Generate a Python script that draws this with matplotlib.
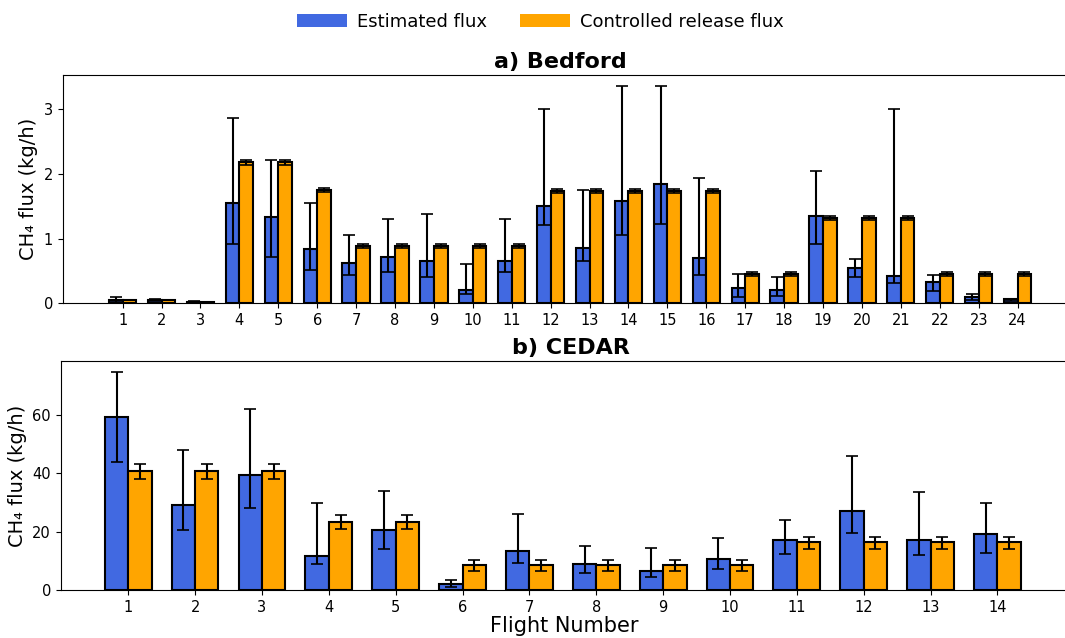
import matplotlib
matplotlib.use("Agg")
import matplotlib.pyplot as plt
import numpy as np
from matplotlib.patches import Patch

# ---------------- data ----------------
bed_flights = list(range(1, 25))
bed_est = [0.05, 0.05, 0.02, 1.55, 1.34, 0.84, 0.63, 0.72, 0.66, 0.20, 0.65, 1.51,
           0.85, 1.58, 1.84, 0.70, 0.24, 0.20, 1.35, 0.55, 0.42, 0.33, 0.10, 0.06]
bed_est_lo = [0.02, 0.04, 0.01, 0.91, 0.72, 0.51, 0.43, 0.49, 0.40, 0.14, 0.48, 1.21,
              0.66, 1.05, 1.22, 0.44, 0.10, 0.11, 0.92, 0.41, 0.32, 0.19, 0.05, 0.04]
bed_est_hi = [0.10, 0.06, 0.03, 2.86, 2.22, 1.55, 1.05, 1.30, 1.38, 0.60, 1.31, 3.00,
              1.75, 3.36, 3.36, 1.93, 0.46, 0.40, 2.05, 0.69, 3.01, 0.44, 0.14, 0.07]
bed_rel = [0.05, 0.05, 0.02, 2.18, 2.18, 1.75, 0.89, 0.89, 0.89, 0.89, 0.89, 1.74,
           1.74, 1.74, 1.74, 1.74, 0.45, 0.45, 1.32, 1.32, 1.32, 0.45, 0.45, 0.45]
bed_rel_err = [0.0, 0.0, 0.0, 0.04, 0.04, 0.03, 0.03, 0.03, 0.03, 0.03, 0.03, 0.03,
               0.03, 0.03, 0.03, 0.03, 0.03, 0.03, 0.03, 0.03, 0.03, 0.03, 0.03, 0.03]

ced_flights = list(range(1, 15))
ced_est = [59.4, 29.0, 39.5, 11.8, 20.6, 2.1, 13.3, 8.9, 6.5, 10.6, 17.0, 27.2, 17.0, 19.1]
ced_est_lo = [43.8, 20.5, 28.0, 8.8, 13.9, 1.1, 9.3, 5.8, 4.6, 7.2, 12.2, 19.5, 11.9, 12.8]
ced_est_hi = [74.6, 47.9, 62.2, 29.7, 33.8, 3.3, 25.9, 15.1, 14.5, 17.9, 24.1, 46.1, 33.5, 29.7]
ced_rel = [40.7, 40.7, 40.7, 23.4, 23.4, 8.6, 8.6, 8.6, 8.6, 8.6, 16.5, 16.5, 16.5, 16.5]
ced_rel_lo = [38.2, 38.2, 38.2, 21.0, 21.0, 6.6, 6.6, 6.6, 6.6, 6.6, 13.9, 13.9, 13.9, 13.9]
ced_rel_hi = [43.1, 43.1, 43.1, 25.6, 25.6, 10.4, 10.4, 10.4, 10.4, 10.4, 18.3, 18.3, 18.3, 18.3]

legend_labels = ["Estimated flux", "Controlled release flux"]
titles = ["a) Bedford", "b) CEDAR"]
ylabel = "CH\u2084 flux (kg/h)"
xlabel = "Flight Number"

# ---------------- styling ----------------
c_est = "royalblue"
c_rel = "orange"
W = 0.35
FW, FH = 1065, 638

fig = plt.figure(figsize=(FW / 100, FH / 100), dpi=100)

def px_axes(left, right, top, bottom):
    return fig.add_axes([left / FW, (FH - bottom) / FH, (right - left) / FW, (bottom - top) / FH])

ax1 = px_axes(62.7, 1067, 75, 303.3)
ax2 = px_axes(60.7, 1067, 361, 590)

def draw(ax, x, est, lo, hi, rel, rlo, rhi):
    x = np.asarray(x, dtype=float)
    est = np.asarray(est); rel = np.asarray(rel)
    ax.bar(x - W / 2, est, W, color=c_est, edgecolor="black", linewidth=1.5, zorder=2)
    ax.bar(x + W / 2, rel, W, color=c_rel, edgecolor="black", linewidth=1.5, zorder=2)
    yerr_e = np.vstack([est - np.asarray(lo), np.asarray(hi) - est])
    yerr_r = np.vstack([rel - np.asarray(rlo), np.asarray(rhi) - rel])
    ax.errorbar(x - W / 2, est, yerr=yerr_e, fmt="none", ecolor="black",
                elinewidth=1.5, capsize=4, capthick=1.2, zorder=3)
    ax.errorbar(x + W / 2, rel, yerr=yerr_r, fmt="none", ecolor="black",
                elinewidth=1.5, capsize=4, capthick=1.2, zorder=3)
    ax.set_xticks(x)
    ax.set_xticklabels([str(int(v)) for v in x])
    ax.tick_params(axis="x", labelsize=10.5)
    ax.tick_params(axis="y", labelsize=10.5)
    ax.spines["right"].set_visible(False)

bed_rel_arr = np.asarray(bed_rel)
bed_err_arr = np.asarray(bed_rel_err)
draw(ax1, bed_flights, bed_est, bed_est_lo, bed_est_hi, bed_rel,
     bed_rel_arr - bed_err_arr, bed_rel_arr + bed_err_arr)
draw(ax2, ced_flights, ced_est, ced_est_lo, ced_est_hi, ced_rel, ced_rel_lo, ced_rel_hi)

ax1.set_xlim(-0.54, 25.27)
ax1.set_ylim(0, 3.53)
ax1.set_yticks([0, 1, 2, 3])
ax2.set_xlim(-0.01, 15.04)
ax2.set_ylim(0, 78.5)
ax2.set_yticks([0, 20, 40, 60])

ax1.set_ylabel(ylabel, fontsize=14, labelpad=4)
ax2.set_ylabel(ylabel, fontsize=14, labelpad=4)
ax2.set_xlabel(xlabel, fontsize=15, labelpad=1)

ax1.set_title(titles[0], fontsize=16, fontweight="bold", x=0.4954, pad=5)
ax2.set_title(titles[1], fontsize=16, fontweight="bold", x=0.507, pad=5)

handles = [Patch(facecolor=c_est, label=legend_labels[0]),
           Patch(facecolor=c_rel, label=legend_labels[1])]
fig.legend(handles=handles, loc="center", bbox_to_anchor=(540.5 / FW, 1 - 22 / FH),
           ncol=2, frameon=False, fontsize=13, handlelength=2.8, columnspacing=1.8,
           handletextpad=0.55)

fig.savefig("out.png", dpi=100)
